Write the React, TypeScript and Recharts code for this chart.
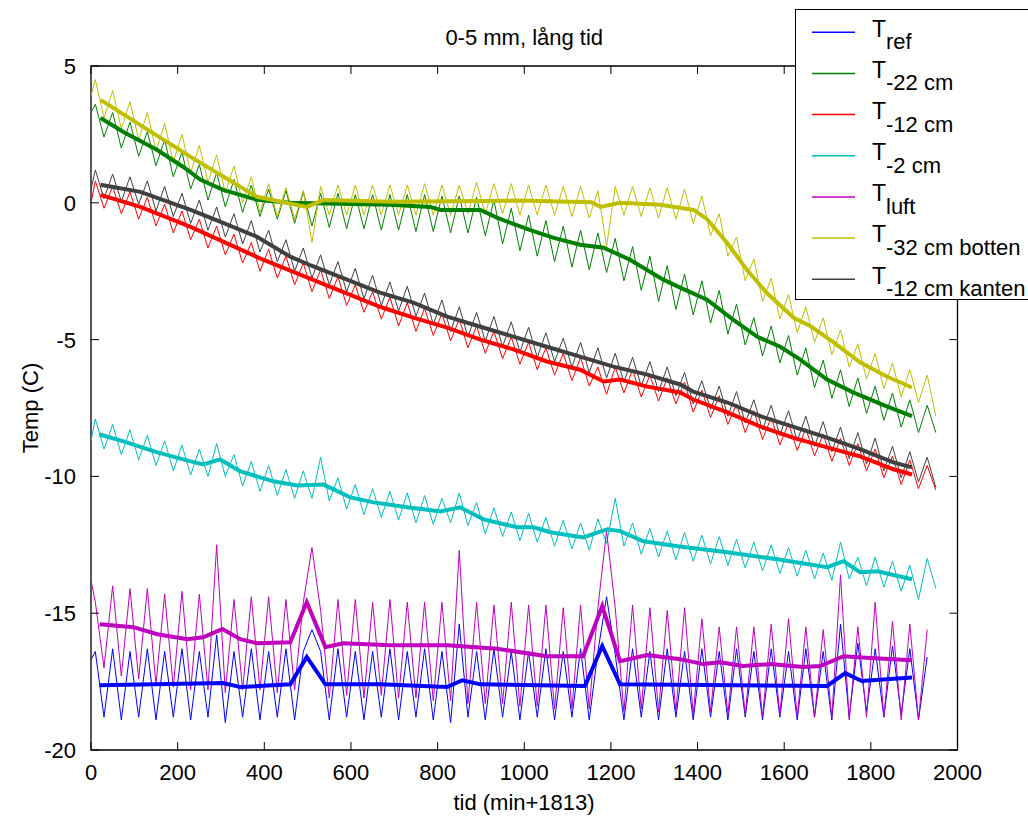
import React from "react";
import { LineChart, Line, XAxis, YAxis, ReferenceArea, Legend } from "recharts";

// sample times (min) of the raw logger readings
const tGrid = [
  0, 10, 30, 50, 70, 90, 110, 130, 150, 170, 190, 210, 230, 250, 270, 290, 310, 330, 350, 370,
  390, 410, 430, 450, 470, 490, 510, 530, 550, 570, 590, 610, 630, 650, 670, 690, 710, 730, 750, 770,
  790, 810, 830, 850, 870, 890, 910, 930, 950, 970, 990, 1010, 1030, 1050, 1070, 1090, 1110, 1130, 1150, 1170,
  1190, 1210, 1230, 1250, 1270, 1290, 1310, 1330, 1350, 1370, 1390, 1410, 1430, 1450, 1470, 1490, 1510, 1530, 1550, 1570,
  1590, 1610, 1630, 1650, 1670, 1690, 1710, 1730, 1750, 1770, 1790, 1810, 1830, 1850, 1870, 1890, 1910, 1930, 1950,
];

const refThin = [
  -16.7, -16.4, -18.8, -16.3, -18.9, -16.4, -18.8, -16.3, -18.9, -16.4,
  -18.8, -16.3, -18.9, -16.4, -18.8, -15.8, -19.0, -16.4, -18.8, -16.3,
  -18.9, -16.4, -18.8, -16.3, -18.9, -16.4, -15.6, -16.4, -18.9, -16.3,
  -18.8, -16.4, -18.9, -16.4, -18.8, -16.3, -18.9, -16.4, -18.8, -16.3,
  -18.9, -16.4, -19.0, -15.4, -18.8, -16.4, -18.9, -16.3, -18.8, -16.4,
  -18.9, -16.4, -18.8, -16.3, -18.9, -16.4, -18.8, -16.3, -18.9, -16.4,
  -14.4, -16.5, -18.9, -16.3, -18.8, -16.4, -18.9, -16.3, -18.8, -16.4,
  -18.9, -16.3, -18.8, -16.4, -18.9, -16.3, -18.8, -16.4, -18.9, -16.3,
  -18.8, -16.4, -18.9, -16.3, -18.8, -16.4, -18.9, -15.4, -18.8, -16.1,
  -18.6, -16.3, -18.8, -16.2, -18.7, -16.3, -18.9, -16.6, null,
];

const cm22Thin = [
  3.3, 3.6, 2.4, 3.3, 2.0, 2.95, 1.7, 2.6, 1.35, 2.3,
  0.95, 1.85, 0.5, 1.4, 0.1, 1.1, -0.15, 0.85, -0.35, 0.65,
  -0.5, 0.5, -0.6, 0.45, -0.75, 0.4, -0.85, 0.35, -0.9, 0.35,
  -0.95, 0.3, -0.95, 0.3, -1.0, 0.3, -1.0, 0.3, -1.05, 0.3,
  -1.05, 0.25, -1.1, 0.25, -1.1, 0.2, -1.2, 0.1, -1.5, -0.2,
  -1.75, -0.45, -1.95, -0.65, -2.15, -0.85, -2.35, -1.0, -2.45, -1.1,
  -2.55, -1.3, -2.85, -1.6, -3.2, -1.95, -3.6, -2.3, -3.9, -2.6,
  -4.1, -2.85, -4.4, -3.2, -4.8, -3.7, -5.2, -4.2, -5.6, -4.5,
  -5.85, -4.85, -6.3, -5.3, -6.75, -5.75, -7.15, -6.1, -7.45, -6.4,
  -7.7, -6.7, -7.95, -6.95, -8.2, -7.2, -8.4, -7.4, -8.4,
];

const cm12Thin = [
  0.0, 0.8, -0.2, 0.6, -0.4, 0.4, -0.6, 0.2, -0.85, -0.05,
  -1.1, -0.3, -1.35, -0.6, -1.65, -0.85, -1.9, -1.15, -2.2, -1.45,
  -2.5, -1.7, -2.75, -1.95, -3.0, -2.2, -3.25, -2.45, -3.5, -2.7,
  -3.75, -3.0, -4.0, -3.25, -4.25, -3.45, -4.5, -3.65, -4.7, -3.85,
  -4.85, -4.05, -5.05, -4.25, -5.3, -4.5, -5.5, -4.7, -5.7, -4.9,
  -5.9, -5.1, -6.1, -5.3, -6.3, -5.5, -6.5, -5.65, -6.7, -6.0,
  -7.0, -6.0, -6.95, -6.1, -7.1, -6.3, -7.25, -6.4, -7.35, -6.55,
  -7.65, -6.85, -7.85, -7.05, -8.1, -7.35, -8.4, -7.6, -8.65, -7.85,
  -8.85, -8.05, -9.05, -8.25, -9.25, -8.45, -9.45, -8.6, -9.6, -8.8,
  -9.8, -9.0, -10.05, -9.25, -10.3, -9.4, -10.45, -9.6, -10.5,
];

const cm2Thin = [
  -8.7, -7.9, -9.0, -8.1, -9.2, -8.3, -9.4, -8.5, -9.6, -8.7,
  -9.8, -8.85, -9.95, -9.0, -10.0, -8.8, -10.0, -9.2, -10.35, -9.45,
  -10.55, -9.6, -10.7, -9.75, -10.8, -9.8, -10.8, -9.3, -10.9, -10.05,
  -11.2, -10.3, -11.4, -10.45, -11.5, -10.55, -11.6, -10.6, -11.7, -10.7,
  -11.75, -10.8, -11.7, -10.6, -11.8, -10.95, -12.1, -11.15, -12.2, -11.3,
  -12.35, -11.35, -12.4, -11.5, -12.55, -11.6, -12.65, -11.7, -12.7, -11.55,
  -12.45, -10.8, -12.55, -11.7, -12.85, -11.9, -12.95, -12.0, -13.05, -12.05,
  -13.1, -12.15, -13.2, -12.2, -13.25, -12.3, -13.35, -12.4, -13.45, -12.5,
  -13.55, -12.6, -13.65, -12.7, -13.75, -12.8, -13.8, -12.4, -13.75, -12.95,
  -14.0, -12.95, -14.05, -13.1, -14.2, -13.25, -14.5, -13.0, -14.1,
];

const luftThin = [
  -13.8, -14.6, -17.0, -14.0, -17.3, -14.1, -17.4, -14.1, -17.6, -14.3,
  -17.7, -14.2, -17.8, -14.3, -17.8, -12.5, -17.9, -14.5, -17.8, -14.4,
  -17.8, -14.4, -17.9, -14.5, -17.8, -14.6, -12.6, -14.9, -18.1, -14.5,
  -18.0, -14.5, -18.1, -14.6, -18.0, -14.5, -18.1, -14.6, -18.1, -14.6,
  -18.2, -14.6, -18.2, -12.7, -18.3, -14.6, -18.3, -14.7, -18.3, -14.6,
  -18.4, -14.7, -18.4, -14.7, -18.5, -14.8, -18.5, -14.7, -18.5, -14.8,
  -12.0, -14.8, -18.6, -14.7, -18.5, -14.8, -18.6, -14.9, -18.6, -14.8,
  -18.7, -15.2, -18.6, -15.5, -18.7, -15.5, -18.7, -15.5, -18.8, -15.4,
  -18.7, -15.2, -18.8, -15.5, -18.8, -15.6, -18.8, -13.6, -18.9, -15.5,
  -18.8, -14.6, -18.8, -15.3, -18.9, -15.4, -18.9, -15.6, null,
];

const cm32Thin = [
  3.9, 4.5, 3.1, 4.1, 2.7, 3.7, 2.3, 3.3, 1.9, 2.9,
  1.5, 2.5, 1.1, 2.1, 0.75, 1.75, 0.35, 1.35, 0.0, 0.95,
  -0.35, 0.7, -0.5, 0.55, -0.6, 0.45, -1.45, 0.6, -0.45, 0.65,
  -0.45, 0.65, -0.45, 0.65, -0.45, 0.65, -0.45, 0.65, -0.45, 0.7,
  -0.45, 0.65, -0.45, 0.65, -0.4, 0.75, -0.4, 0.7, -0.4, 0.7,
  -0.45, 0.65, -0.45, 0.65, -0.45, 0.6, -0.5, 0.6, -0.55, 0.45,
  -1.6, 0.6, -0.45, 0.6, -0.5, 0.55, -0.55, 0.55, -0.6, 0.5,
  -0.75, 0.25, -1.2, -0.4, -1.95, -1.25, -2.85, -2.05, -3.6, -2.75,
  -4.25, -3.35, -4.75, -3.8, -5.1, -4.2, -5.55, -4.65, -6.0, -5.15,
  -6.45, -5.5, -6.8, -5.85, -7.1, -6.1, -7.3, -6.3, -7.8,
];

const kantThin = [
  0.5, 1.2, 0.15, 1.05, 0.05, 0.95, -0.05, 0.8, -0.3, 0.6,
  -0.5, 0.35, -0.75, 0.1, -1.0, -0.15, -1.25, -0.4, -1.5, -0.65,
  -1.8, -1.0, -2.15, -1.35, -2.5, -1.65, -2.75, -1.9, -3.0, -2.15,
  -3.25, -2.4, -3.5, -2.65, -3.75, -2.9, -3.95, -3.05, -4.15, -3.3,
  -4.45, -3.55, -4.7, -3.8, -4.9, -4.0, -5.05, -4.15, -5.25, -4.35,
  -5.45, -4.55, -5.65, -4.75, -5.8, -4.95, -6.0, -5.1, -6.2, -5.3,
  -6.4, -5.5, -6.55, -5.65, -6.7, -5.8, -6.9, -6.0, -7.05, -6.2,
  -7.35, -6.5, -7.55, -6.7, -7.8, -6.9, -8.05, -7.2, -8.3, -7.4,
  -8.5, -7.6, -8.7, -7.8, -8.9, -8.0, -9.1, -8.2, -9.35, -8.4,
  -9.55, -8.6, -9.8, -8.9, -10.05, -9.1, -10.2, -9.3, -10.4,
];

// smoothed curves (thick lines)
const refAvgT = [20, 305, 345, 460, 498, 541, 667, 822, 857, 899, 1140, 1180, 1221, 1699, 1741, 1779, 1895];
const refAvg = [-17.63, -17.55, -17.7, -17.6, -16.6, -17.6, -17.6, -17.7, -17.45, -17.6, -17.66, -16.2, -17.6, -17.66, -17.19, -17.48, -17.35];

const cm22AvgT = [22, 75, 153, 213, 253, 305, 383, 460, 690, 784, 807, 899, 938, 1014, 1068, 1129, 1183, 1244, 1321, 1360, 1422, 1482, 1538, 1591, 1637, 1699, 1759, 1838, 1895];
const cm22Avg = [3.1, 2.59, 1.93, 1.31, 0.84, 0.47, 0.11, 0.0, -0.07, -0.15, -0.26, -0.26, -0.55, -1.0, -1.28, -1.53, -1.64, -2.08, -2.81, -3.1, -3.54, -4.27, -4.9, -5.26, -5.73, -6.46, -6.93, -7.45, -7.8];

const cm12AvgT = [22, 114, 230, 305, 397, 667, 744, 822, 899, 975, 1052, 1129, 1160, 1183, 1221, 1284, 1360, 1390, 1469, 1545, 1620, 1699, 1775, 1852, 1895];
const cm12Avg = [0.29, -0.15, -0.88, -1.42, -2.08, -3.8, -4.2, -4.56, -5.0, -5.36, -5.8, -6.1, -6.35, -6.53, -6.46, -6.72, -6.93, -7.19, -7.66, -8.18, -8.58, -8.94, -9.27, -9.74, -9.93];

const cm2AvgT = [20, 75, 153, 230, 259, 298, 345, 421, 476, 537, 599, 652, 730, 807, 852, 906, 984, 1021, 1060, 1136, 1192, 1221, 1275, 1354, 1469, 1584, 1699, 1737, 1775, 1815, 1895];
const cm2Avg = [-8.47, -8.72, -9.12, -9.45, -9.56, -9.38, -9.82, -10.18, -10.33, -10.3, -10.77, -10.95, -11.13, -11.28, -11.13, -11.57, -11.86, -11.86, -12.04, -12.23, -11.93, -12.0, -12.37, -12.55, -12.77, -13.03, -13.32, -13.1, -13.5, -13.47, -13.76];

const luftAvgT = [20, 98, 153, 222, 259, 303, 345, 383, 460, 498, 541, 582, 690, 822, 938, 1052, 1136, 1180, 1221, 1284, 1360, 1413, 1453, 1505, 1568, 1644, 1683, 1737, 1798, 1895];
const luftAvg = [-15.4, -15.51, -15.77, -15.95, -15.88, -15.58, -15.95, -16.1, -16.06, -14.6, -16.24, -16.1, -16.17, -16.17, -16.3, -16.57, -16.57, -14.74, -16.75, -16.53, -16.68, -16.86, -16.79, -16.93, -16.86, -16.97, -16.93, -16.57, -16.64, -16.72];

const cm32AvgT = [22, 230, 383, 498, 537, 690, 985, 1155, 1176, 1221, 1314, 1391, 1422, 1468, 1514, 1560, 1622, 1660, 1714, 1776, 1837, 1895];
const cm32Avg = [3.76, 1.68, 0.22, -0.15, 0.1, 0.04, 0.08, 0.02, -0.15, 0.0, -0.07, -0.26, -0.6, -1.46, -2.45, -3.3, -4.2, -4.5, -5.1, -5.84, -6.35, -6.75];

const kantAvgT = [22, 114, 230, 305, 383, 460, 509, 667, 744, 822, 899, 975, 1052, 1129, 1206, 1284, 1360, 1390, 1469, 1545, 1620, 1699, 1775, 1852, 1895];
const kantAvg = [0.66, 0.4, -0.26, -0.73, -1.24, -1.97, -2.3, -3.28, -3.65, -4.16, -4.53, -4.89, -5.26, -5.62, -5.99, -6.28, -6.64, -6.9, -7.3, -7.8, -8.18, -8.58, -9.0, -9.49, -9.67];

const subLabels = ["ref", "-22 cm", "-12 cm", "-2 cm", "luft", "-32 cm botten", "-12 cm kanten"];
const xTicks = [0, 200, 400, 600, 800, 1000, 1200, 1400, 1600, 1800, 2000];
const yTicks = [-20, -15, -10, -5, 0, 5];

const FONT = '"Liberation Sans", Arial, Helvetica, sans-serif';
const PLOT = { left: 91, right: 957.5, top: 66, bottom: 750 };

const series = [
  { key: "ref", color: "#0000ff", thin: refThin, avgT: refAvgT, avg: refAvg },
  { key: "cm22", color: "#008000", thin: cm22Thin, avgT: cm22AvgT, avg: cm22Avg },
  { key: "cm12", color: "#ff0000", thin: cm12Thin, avgT: cm12AvgT, avg: cm12Avg },
  { key: "cm2", color: "#00bfbf", thin: cm2Thin, avgT: cm2AvgT, avg: cm2Avg },
  { key: "luft", color: "#bf00bf", thin: luftThin, avgT: luftAvgT, avg: luftAvg },
  { key: "cm32", color: "#bfbf00", thin: cm32Thin, avgT: cm32AvgT, avg: cm32Avg },
  { key: "kant", color: "#404040", thin: kantThin, avgT: kantAvgT, avg: kantAvg },
];

const toPoints = (ts: number[], vs: (number | null)[]) => ts.map((t, i) => ({ t, v: vs[i] }));

const XTick = (props: any) => {
  const { x, payload } = props;
  return (
    <g>
      <line x1={x} x2={x} y1={PLOT.bottom} y2={PLOT.bottom - 8} stroke="#000" />
      <line x1={x} x2={x} y1={PLOT.top} y2={PLOT.top + 8} stroke="#000" />
      <text x={x} y={780} textAnchor="middle" fontSize={22} fontFamily={FONT} fill="#000">
        {payload.value}
      </text>
    </g>
  );
};

const YTick = (props: any) => {
  const { y, payload } = props;
  return (
    <g>
      <line x1={PLOT.left} x2={PLOT.left + 8} y1={y} y2={y} stroke="#000" />
      <line x1={PLOT.right} x2={PLOT.right - 8} y1={y} y2={y} stroke="#000" />
      <text x={76} y={y + 8} textAnchor="end" fontSize={22} fontFamily={FONT} fill="#000">
        {payload.value}
      </text>
    </g>
  );
};

const LegendBox = () => (
  <svg width={233} height={292} style={{ display: "block" }}>
    <rect x={0.5} y={0.5} width={250} height={290} fill="#fff" stroke="#000" />
    {series.map((s, i) => {
      const y = 23.3 + 41.15 * i;
      return (
        <g key={s.key} fontFamily={FONT} fill="#000">
          <line x1={17} x2={60} y1={y} y2={y} stroke={s.color} strokeWidth={1.5} />
          <text x={77} y={y + 4.4} fontSize={23}>T</text>
          <text x={91} y={y + 17} fontSize={22}>{subLabels[i]}</text>
        </g>
      );
    })}
  </svg>
);

export default function App() {
  return (
    <div style={{ position: "absolute", left: 0, top: 0, width: 1028, height: 821, background: "#fff", fontFamily: FONT }}>
      <div style={{ position: "absolute", left: PLOT.left, width: PLOT.right - PLOT.left, top: 25, textAlign: "center", fontSize: 22, lineHeight: "26px" }}>
        0-5 mm, lång tid
      </div>
      <LineChart width={1028} height={821} margin={{ top: 66, right: 70.5, bottom: 0, left: 0 }}>
        <XAxis
          dataKey="t"
          type="number"
          domain={[0, 2000]}
          ticks={xTicks}
          interval={0}
          axisLine={false}
          tickLine={false}
          tick={<XTick />}
          height={71}
          allowDataOverflow
          label={() => (
            <text x={524} y={810} textAnchor="middle" fontSize={22} fontFamily={FONT} fill="#000">
              tid (min+1813)
            </text>
          )}
        />
        <YAxis
          type="number"
          domain={[-20, 5]}
          ticks={yTicks}
          interval={0}
          axisLine={false}
          tickLine={false}
          tick={<YTick />}
          width={91}
          allowDataOverflow
          label={() => (
            <text x={30} y={408} transform="rotate(-90, 30, 408)" textAnchor="middle" dominantBaseline="central" fontSize={22} fontFamily={FONT} fill="#000">
              Temp (C)
            </text>
          )}
        />
        {series.map((s) => (
          <Line
            key={s.key}
            data={toPoints(tGrid, s.thin)}
            dataKey="v"
            type="linear"
            stroke={s.color}
            strokeWidth={1}
            dot={false}
            activeDot={false}
            legendType="none"
            isAnimationActive={false}
          />
        ))}
        {series.map((s) => (
          <Line
            key={s.key + "-avg"}
            data={toPoints(s.avgT, s.avg)}
            dataKey="v"
            type="linear"
            stroke={s.color}
            strokeWidth={4}
            dot={false}
            activeDot={false}
            legendType="none"
            isAnimationActive={false}
          />
        ))}
        <ReferenceArea x1={0} x2={2000} y1={-20} y2={5} fill="none" stroke="#000" strokeWidth={1.3} />
        <Legend
          layout="vertical"
          align="center"
          verticalAlign="middle"
          content={() => <LegendBox />}
          wrapperStyle={{ left: 795, top: 9, width: 233, height: 292 }}
        />
      </LineChart>
    </div>
  );
}
